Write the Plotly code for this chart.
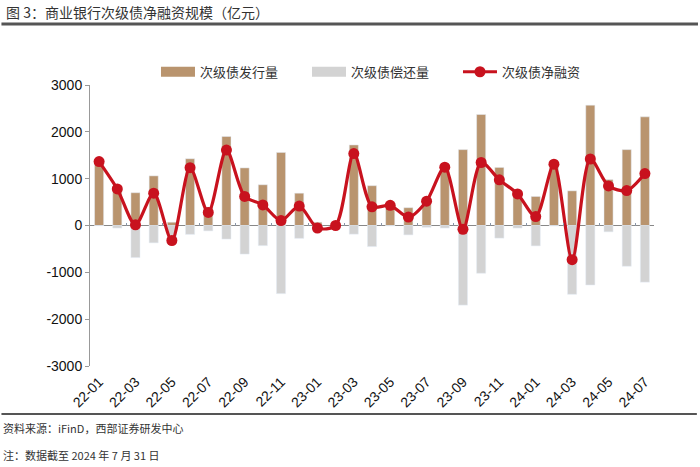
import plotly.graph_objects as go

months = ["22-01","22-02","22-03","22-04","22-05","22-06","22-07","22-08","22-09","22-10","22-11","22-12",
          "23-01","23-02","23-03","23-04","23-05","23-06","23-07","23-08","23-09","23-10","23-11","23-12",
          "24-01","24-02","24-03","24-04","24-05","24-06","24-07"]
issuance = [1370, 830, 700, 1060, 70, 1425, 395, 1900, 1230, 870, 1560, 690,
            70, 10, 1720, 850, 440, 380, 560, 1300, 1620, 2370, 1240, 730,
            620, 1320, 740, 2570, 980, 1620, 2320]
redemption = [-5, -55, -685, -370, -390, -190, -115, -290, -610, -430, -1455, -275,
              -130, -10, -185, -450, -10, -200, -40, -55, -1700, -1020, -270, -55,
              -435, -10, -1470, -1270, -135, -870, -1210]
net = [1365, 780, 15, 690, -320, 1235, 280, 1610, 620, 440, 105, 415,
       -55, 0, 1535, 400, 430, 180, 520, 1245, -80, 1345, 975, 675,
       190, 1310, -730, 1420, 845, 745, 1110]
y_ticks = [-3000, -2000, -1000, 0, 1000, 2000, 3000]
y_tick_labels = ["-3000", "-2000", "-1000", "0", "1000", "2000", "3000"]

CJK = "Noto Sans CJK SC"
NUM = "Liberation Sans, Arial"
BROWN = "#B9946E"
GREY = "#D3D3D3"
RED = "#C8121E"

fig = go.Figure()
fig.add_trace(go.Bar(x=months, y=issuance, name="次级债发行量", marker_color=BROWN,
                     legendgroup="iss", showlegend=False))
fig.add_trace(go.Bar(x=months, y=redemption, name="次级债偿还量", marker_color=GREY,
                     legendgroup="red", showlegend=False))
fig.add_trace(go.Scatter(x=months, y=net, name="次级债净融资", mode="lines+markers",
                         line=dict(color=RED, width=3.2, shape="spline", smoothing=0.8),
                         marker=dict(color=RED, size=11), legendrank=3))
# legend proxies (wide rectangular swatches like the reference)
fig.add_trace(go.Scatter(x=[None], y=[None], name="次级债发行量", mode="lines",
                         line=dict(color=BROWN, width=10), legendgroup="iss", legendrank=1))
fig.add_trace(go.Scatter(x=[None], y=[None], name="次级债偿还量", mode="lines",
                         line=dict(color=GREY, width=10), legendgroup="red", legendrank=2))
# invisible trace to carry the zero-line tick axis
fig.add_trace(go.Scatter(x=months, y=[0]*len(months), xaxis="x2", mode="lines",
                         line=dict(width=0), showlegend=False, hoverinfo="skip"))

fig.update_layout(
    width=700, height=467,
    paper_bgcolor="white", plot_bgcolor="white",
    margin=dict(l=90, r=46, t=85, b=101, autoexpand=False),
    barmode="relative", bargap=0.5,
    font=dict(family=NUM, size=13, color="#111"),
    legend=dict(orientation="h", x=0.117, y=1.047, xanchor="left", yanchor="middle",
                font=dict(family=CJK, size=13, color="#333"), itemwidth=34,
                bgcolor="rgba(0,0,0,0)", traceorder="normal", entrywidth=102),
    xaxis=dict(type="category", categoryorder="array", categoryarray=months,
               tickmode="array", tickvals=months[::2], ticktext=months[::2],
               tickangle=-45, ticks="", showline=False, showgrid=False, zeroline=False,
               tickfont=dict(family=NUM, size=14, color="#111"), ticklabelstandoff=4,
               range=[-0.5, len(months) - 0.5]),
    xaxis2=dict(type="category", overlaying="x", matches="x", anchor="free", position=0.5,
                tickmode="array", tickvals=months[::2], tickson="boundaries",
                ticks="inside", ticklen=3, tickcolor="#8a96a8", showticklabels=False,
                showline=False, showgrid=False, zeroline=False),
    yaxis=dict(range=[-3000, 3000], tickmode="array", tickvals=y_ticks, ticktext=y_tick_labels,
               showgrid=False, showline=True, linecolor="#999", linewidth=1,
               ticks="outside", ticklen=4, tickcolor="#999",
               zeroline=True, zerolinecolor="#888", zerolinewidth=1,
               tickfont=dict(family=NUM, size=14, color="#111")),
)

fig.add_shape(type="line", xref="paper", yref="paper", x0=-0.157, x1=1.078, y0=1.217, y1=1.217,
              line=dict(color="#555", width=3))
fig.add_shape(type="line", xref="paper", yref="paper", x0=-0.157, x1=1.076, y0=-0.171, y1=-0.171,
              line=dict(color="#555", width=2))

fig.add_annotation(text="图 3：商业银行次级债净融资规模（亿元）", xref="paper", yref="paper",
                   x=-0.152, y=1.26, xanchor="left", yanchor="middle", showarrow=False,
                   font=dict(family=CJK, size=14, color="#333"))
fig.add_annotation(text="资料来源：iFinD，西部证券研发中心", xref="paper", yref="paper",
                   x=-0.157, y=-0.22, xanchor="left", yanchor="middle", showarrow=False,
                   font=dict(family=CJK, size=11, color="#333"))
fig.add_annotation(text="注：数据截至 2024 年 7 月 31 日", xref="paper", yref="paper",
                   x=-0.157, y=-0.317, xanchor="left", yanchor="middle", showarrow=False,
                   font=dict(family=CJK, size=11, color="#333"))

fig.write_html("out.html", config={"displayModeBar": False},
               post_script="document.body.style.margin='0';document.body.style.overflow='hidden';")
